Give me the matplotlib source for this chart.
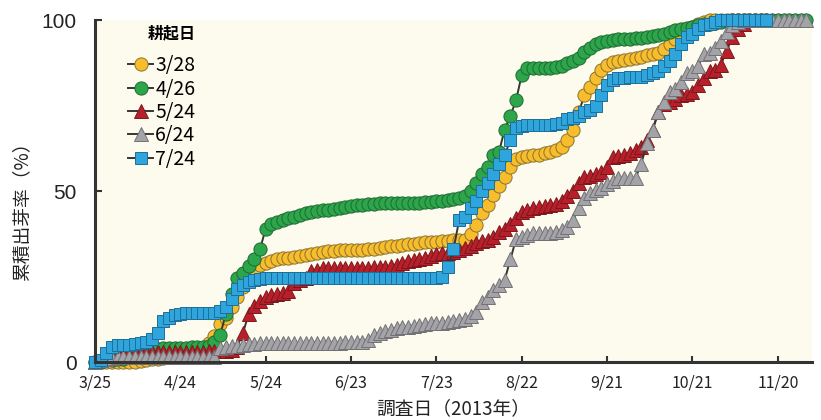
import numpy as np
import matplotlib
matplotlib.use('Agg')
import matplotlib.pyplot as plt

plt.rcParams['font.family'] = ['Noto Sans CJK JP', 'DejaVu Sans']

# survey days, counted from 3/25 (every 2 days)
days = np.arange(0, 252, 2)

tick_days = [0, 30, 60, 90, 120, 150, 180, 210, 240]
tick_labels = ['3/25', '4/24', '5/24', '6/23', '7/23', '8/22', '9/21', '10/21', '11/20']

# cumulative emergence rate (%) per plowing date
rate_0328 = [0, 0, 0, 0, 0, 0, 0, 0, 0.3, 0.5,
             0.8, 1, 1.2, 1.5, 1.8, 2, 2.3, 2.7, 3.2, 4,
             5.5, 7.5, 11, 13, 16, 19, 22, 25, 27, 28.4,
             29, 29.5, 30, 30.3, 30.5, 30.8, 31, 31.3, 31.6, 32,
             32.3, 32.5, 32.6, 32.7, 32.7, 32.7, 32.8, 32.8, 33, 33.2,
             33.4, 33.6, 33.8, 34, 34.2, 34.4, 34.6, 34.8, 35, 35,
             35.2, 35.3, 35.5, 35.6, 35.7, 35.8, 37.5, 40, 43.5, 46,
             49, 51.5, 54, 57, 59.5, 60, 60.3, 60.5, 60.7, 61,
             61.5, 62, 63, 65, 68, 73, 78, 80.5, 83, 85.5,
             87, 87.7, 88, 88.3, 88.7, 89, 89.3, 89.7, 90, 90.5,
             91.5, 93, 94.5, 96, 97, 98, 99, 99.5, 100, 100,
             100, 100, 100, 100, 100, 100, 100, 100, 100]

rate_0426 = [0, 0, 0.5, 0.5, 1, 1, 1.5, 2, 2.5, 3,
             3.5, 3.8, 4, 4, 4, 4.2, 4.2, 4.3, 4.4, 4.5,
             4.8, 6, 8, 14, 20, 24.5, 26, 28, 30, 33,
             39, 40.5, 41, 41.5, 42, 42.5, 43, 43.5, 44, 44.2,
             44.4, 44.6, 44.8, 45, 45.3, 45.6, 46, 46, 46.2, 46.3,
             46.4, 46.5, 46.5, 46.5, 46.5, 46.6, 46.6, 46.6, 46.7, 46.8,
             47, 47.2, 47.4, 47.6, 48, 48.5, 50, 52.5, 55, 57,
             60.5, 61.5, 68, 72, 76.6, 84, 86, 86, 86, 86,
             86, 86.2, 86.5, 87.5, 88, 89, 90.6, 92, 93, 93.6,
             94, 94.2, 94.4, 94.5, 94.6, 94.7, 94.8, 95, 95.3, 95.6,
             96, 96.5, 97, 97.5, 97.8, 98, 98.5, 98.8, 99, 99.2,
             99.5, 99.7, 100, 100, 100, 100, 100, 100, 100, 100,
             100, 100, 100, 100, 100, 100]

rate_0524 = [0, 0.5, 1, 1.5, 2, 2.5, 2.8, 3, 3, 3,
             3, 3, 3, 3, 3, 3, 3, 3, 3, 3,
             3.2, 3.2, 3.3, 3.3, 3.5, 4.5, 8.5, 14, 16.5, 18,
             19, 19.6, 20, 20.3, 20.8, 23, 24, 24.5, 26.5, 27,
             27.5, 27.5, 27.5, 27.5, 27.5, 27.5, 27.5, 27.6, 27.6, 27.7,
             27.8, 27.8, 28, 28.5, 29, 29.5, 29.8, 30, 30.5, 31,
             31.5, 31.8, 32, 32.3, 32.7, 33.5, 34, 34.8, 35.3, 35.7,
             36.5, 38, 39, 40.5, 42, 44, 44.5, 45, 45.3, 45.6,
             46, 46.3, 47, 48.5, 50, 52.5, 54, 54.5, 55, 55.6,
             57, 60, 60.3, 60.6, 61, 62, 63, 65, 68, 73,
             75.5, 76, 77, 78, 78.5, 79, 81, 83, 85, 85.4,
             87, 91, 95, 97.5, 99, 100, 100, 100, 100]

rate_0624 = [0, 0.5, 1, 1.3, 1.5, 1.5, 1.5, 1.5, 1.5, 1.5,
             1.5, 1.5, 1.5, 1.5, 1.5, 1.5, 1.5, 1.5, 1.5, 1.5,
             1.5, 1.5, 4, 4.4, 4.6, 4.8, 5, 5.2, 5.4, 5.5,
             5.5, 5.5, 5.5, 5.5, 5.5, 5.6, 5.6, 5.6, 5.6, 5.7,
             5.7, 5.7, 5.7, 5.7, 5.8, 5.8, 5.8, 5.8, 6.5, 8,
             8.5, 9, 9.5, 10, 10.2, 10.3, 10.5, 10.8, 11, 11.3,
             11.4, 11.5, 11.7, 12, 12.3, 12.5, 13.5, 14.6, 17.5, 19,
             21, 22.5, 24, 30, 36, 36.5, 37.2, 37.7, 37.7, 37.7,
             37.7, 38, 38.5, 39.5, 41.5, 45, 48, 49.3, 50.3, 51,
             52, 53, 53.8, 53.8, 53.8, 53.8, 58, 64, 68, 73,
             76, 79, 80, 82, 84.5, 85, 86.5, 90, 90.5, 92,
             94, 96.5, 98.5, 99.5, 100, 100, 100, 100, 100, 100,
             100, 100, 100, 100, 100, 100]

rate_0724 = [0, 0.5, 2.6, 4.5, 5, 5, 5, 5.2, 5.5, 6,
             6.8, 8.5, 12, 13, 13.7, 14, 14.3, 14.3, 14.3, 14.3,
             14.3, 14.3, 15, 16, 18.5, 21.5, 22.5, 23.4, 24, 24.3,
             24.5, 24.5, 24.5, 24.5, 24.5, 24.5, 24.5, 24.5, 24.5, 24.5,
             24.5, 24.5, 24.5, 24.5, 24.5, 24.5, 24.5, 24.5, 24.5, 24.5,
             24.5, 24.5, 24.5, 24.5, 24.5, 24.5, 24.5, 24.5, 24.5, 24.5,
             24.5, 25, 27.8, 33, 41.5, 42.5, 45, 47, 50, 52.5,
             55, 58, 60.5, 65, 68.5, 69, 69.3, 69.3, 69.3, 69.3,
             69.3, 69.5, 70, 71, 71.3, 72, 73, 73.7, 75, 78,
             81, 82.5, 83, 83.2, 83.3, 83.3, 83.5, 84, 84.5, 85,
             86.5, 88, 90, 93, 95, 96, 97.5, 98.5, 99, 99.5,
             100, 100, 100, 100, 100, 100, 100, 100, 100]

series = [
    ('3/28', rate_0328, 'o', '#f7bd2b', '#8a7333', 9.5),
    ('4/26', rate_0426, 'o', '#2da64b', '#1f6a33', 9.5),
    ('5/24', rate_0524, '^', '#b7202a', '#7d171d', 10),
    ('6/24', rate_0624, '^', '#a3a3a8', '#727276', 10),
    ('7/24', rate_0724, 's', '#2ea5dd', '#1f6f97', 9),
]

fig = plt.figure(figsize=(8.21, 4.2), dpi=100)
ax = fig.add_axes([0.1157, 0.138, 0.8733, 0.814])
ax.set_facecolor('#fdfbee')

for label, vals, mk, fc, ec, ms in series:
    ax.plot(days[:len(vals)], vals, color='#353535', lw=1.4, marker=mk, ms=ms,
            mfc=fc, mec=ec, mew=0.7, label=label, clip_on=False)

ax.set_xlim(0, 252)
ax.set_ylim(0, 100)
ax.set_xticks(tick_days)
ax.set_xticklabels(tick_labels)
ax.set_yticks([0, 50, 100])
for t in ax.get_yticklabels():
    t.set_fontfamily(['Liberation Sans', 'DejaVu Sans'])

for side in ['top', 'right']:
    ax.spines[side].set_visible(False)
for side in ['left', 'bottom']:
    ax.spines[side].set_linewidth(2.2)
    ax.spines[side].set_color('#333333')

ax.tick_params(axis='x', direction='in', length=4, width=1.5, color='#333333',
               labelsize=11.5, pad=9, labelcolor='#222222')
ax.tick_params(axis='y', direction='in', length=5, width=1.5, color='#333333',
               labelsize=15, pad=13, labelcolor='#222222')

ax.set_xlabel('調査日（2013年）', fontsize=13.5, labelpad=5, color='#222222')
ax.set_ylabel('累積出芽率（%）', fontsize=13.5, color='#222222')
ax.yaxis.set_label_coords(-0.088, 0.453)

leg = ax.legend(loc='upper left', bbox_to_anchor=(0.046, 0.985), frameon=False,
                title='耕起日', title_fontproperties={'weight': 'bold', 'size': 11.5},
                fontsize=14, handlelength=1.3, handletextpad=0.1, labelspacing=0.12,
                borderpad=0, borderaxespad=0, alignment='right')
leg._legend_box.sep = 10

fig.savefig('out.png', dpi=100)
